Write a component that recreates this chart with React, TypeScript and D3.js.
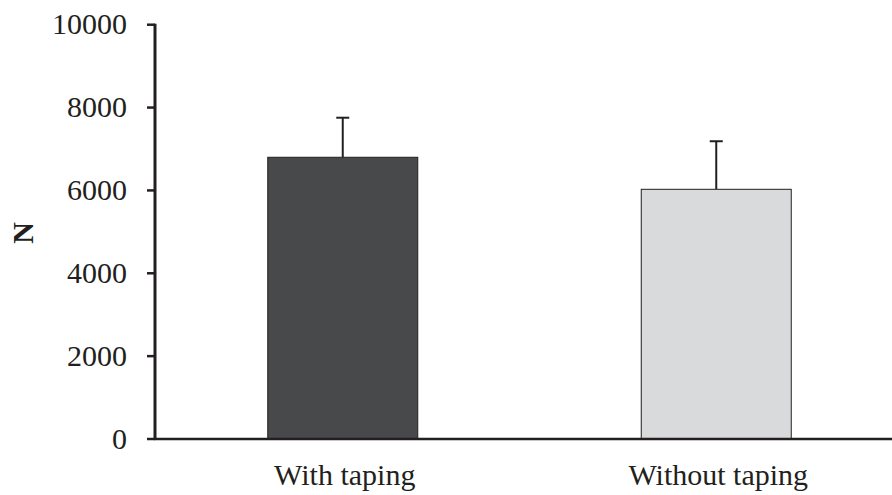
import React from "react";
import * as d3 from "d3";

const categories = ["With taping", "Without taping"];
const means = [6800, 6027];
const errors = [955, 1160];
const fills = ["#48494b", "#d9dadc"];
const yTicks = [0, 2000, 4000, 6000, 8000, 10000];

const W = 892;
const H = 495;

export default function App() {
  const y = d3.scaleLinear().domain([0, 10000]).range([439, 24.7]);
  const x = d3.scalePoint<string>().domain(categories).range([156, 903]).padding(0.5);
  const bw = 150;
  const ink = "#231f20";
  const font = "'Liberation Serif', 'Times New Roman', serif";
  return (
    <svg width={W} height={H} style={{ position: "absolute", left: 0, top: 0, background: "#fff" }} fontFamily={font}>
      {categories.map((c, i) => {
        const cx = x(c)!;
        const top = y(means[i]);
        const et = y(means[i] + errors[i]);
        return (
          <g key={c}>
            <line x1={cx} x2={cx} y1={top} y2={et} stroke={ink} strokeWidth={2} />
            <line x1={cx - 6.5} x2={cx + 6.5} y1={et} y2={et} stroke={ink} strokeWidth={2} />
            <rect x={cx - bw / 2} y={top} width={bw} height={y(0) - top} fill={fills[i]} stroke={ink} strokeWidth={1} />
            <text x={cx + 2} y={485} textAnchor="middle" fontSize={30} fill={ink}>{c}</text>
          </g>
        );
      })}
      <line x1={155} x2={155} y1={y(10000) - 1} y2={y(0) + 1} stroke={ink} strokeWidth={3} />
      <line x1={154} x2={892} y1={y(0)} y2={y(0)} stroke={ink} strokeWidth={2.5} />
      {yTicks.map((t) => (
        <g key={t}>
          <line x1={147} x2={155} y1={y(t)} y2={y(t)} stroke={ink} strokeWidth={2.5} />
          <text x={127} y={y(t)} dy="0.32em" textAnchor="end" fontSize={30} fill={ink}>{t}</text>
        </g>
      ))}
      <text transform={`translate(33,233) rotate(-90)`} textAnchor="middle" fontSize={30} fontWeight="bold" fill={ink}>N</text>
    </svg>
  );
}
